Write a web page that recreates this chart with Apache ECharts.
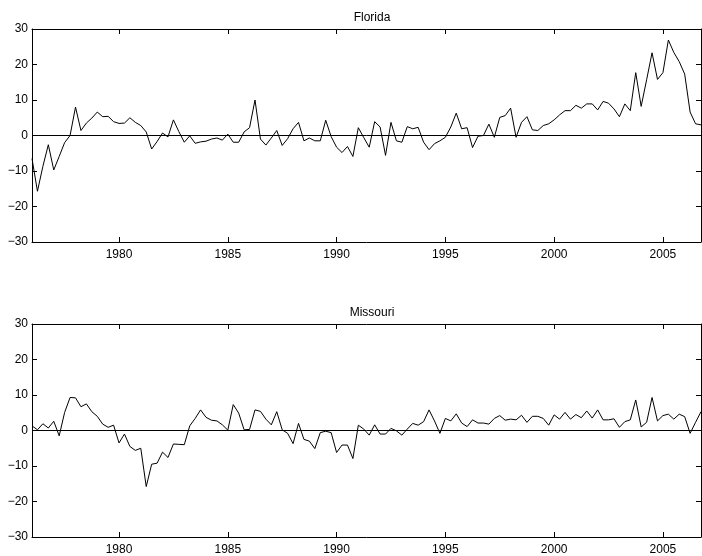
<!DOCTYPE html>
<html>
<head>
<meta charset="utf-8">
<title>Florida / Missouri</title>
<script src="https://cdn.jsdelivr.net/npm/echarts@6/dist/echarts.min.js"></script>
<style>
  html, body { margin: 0; padding: 0; background: #fff; }
  #chart { width: 702px; height: 556px; }
</style>
</head>
<body>
<div id="chart"></div>
<script>
// quarterly series, first point is 1976 Q1
const startYear = 1976;
const xTicks = [1980, 1985, 1990, 1995, 2000, 2005];
const yTicks = [-30, -20, -10, 0, 10, 20, 30];

const florida = [
  -6.5, -15.7, -8.7, -2.6, -9.7, -5.9, -2.0, 0.0, 8.0, 1.4,
  3.5, 4.9, 6.6, 5.3, 5.4, 3.9, 3.4, 3.5, 5.0, 3.7,
  2.8, 1.0, -3.8, -1.7, 0.7, -0.4, 4.4, 1.1, -1.9, -0.1,
  -2.2, -1.8, -1.6, -1.0, -0.7, -1.3, 0.4, -1.9, -1.9, 1.0,
  2.2, 10.0, -1.0, -2.7, -0.7, 1.4, -2.8, -0.9, 1.9, 3.7,
  -1.5, -0.7, -1.5, -1.5, 4.3, -0.3, -3.3, -4.8, -3.1, -5.9,
  2.2, -0.6, -3.3, 3.9, 2.4, -5.6, 3.7, -1.5, -1.9, 2.5,
  1.9, 2.3, -1.9, -4.0, -2.3, -1.5, -0.5, 2.4, 6.3, 1.9,
  2.2, -3.4, -0.2, 0.0, 3.2, -0.5, 5.1, 5.6, 7.7, -0.5,
  3.7, 5.3, 1.6, 1.4, 2.8, 3.3, 4.4, 5.8, 7.0, 7.0,
  8.5, 7.7, 8.9, 8.9, 7.2, 9.6, 9.1, 7.5, 5.3, 8.9,
  7.0, 17.7, 8.2, 15.7, 23.3, 15.8, 17.7, 26.9, 23.4, 20.8,
  17.3, 6.6, 3.3, 3.0
];

const missouri = [
  1.3, 0.2, 1.9, 0.7, 2.6, -1.5, 5.1, 9.3, 9.2, 6.7,
  7.5, 5.3, 4.0, 1.8, 0.9, 1.5, -3.5, -1.0, -4.5, -5.6,
  -5.0, -15.8, -9.5, -9.2, -6.1, -7.6, -3.8, -3.9, -4.0, 1.3,
  3.4, 5.8, 3.7, 2.9, 2.7, 1.6, 0.1, 7.3, 4.9, 0.2,
  0.3, 5.8, 5.4, 3.2, 1.6, 5.3, 0.2, -0.8, -3.7, 2.0,
  -2.5, -3.0, -5.1, -0.6, -0.2, -0.6, -6.2, -4.1, -4.1, -7.9,
  1.5, 0.4, -1.3, 1.6, -1.0, -1.0, 0.6, -0.1, -1.3, 0.4,
  2.0, 1.5, 2.5, 5.8, 2.7, -0.8, 3.4, 2.7, 4.7, 2.1,
  1.1, 3.0, 2.1, 2.1, 1.8, 3.4, 4.2, 2.9, 3.2, 3.0,
  4.3, 2.3, 4.0, 4.0, 3.4, 1.5, 4.4, 3.2, 5.1, 3.2,
  4.5, 3.6, 5.5, 3.5, 5.8, 3.0, 3.0, 3.3, 0.9, 2.5,
  3.0, 8.6, 1.0, 2.3, 9.3, 2.7, 4.2, 4.6, 3.2, 4.6,
  3.9, -0.8, 2.3, 5.3
];

const quarters = florida.map((_, i) => startYear + i / 4);

const chart = echarts.init(document.getElementById("chart"));

const font = "Liberation Sans, Arial, sans-serif";
const minus = (v) => String(v).replace("-", "\u2212");

const panels = [
  { name: "Florida", top: 29, values: florida },
  { name: "Missouri", top: 324, values: missouri },
];

const grids = [];
const xAxes = [];
const yAxes = [];
const titles = [];
const series = [];

panels.forEach((p, k) => {
  grids.push({ left: 32, top: p.top, width: 669, height: 213 });
  titles.push({
    text: p.name,
    left: 367,
    top: p.top - 22,
    textAlign: "center",
    textStyle: { fontFamily: font, fontSize: 12, fontWeight: "normal", color: "#000" },
  });

  const xBase = {
    type: "value",
    gridIndex: k,
    min: startYear,
    max: 2006.75,
    splitLine: { show: false },
    axisLine: { onZero: false, lineStyle: { color: "#000", width: 1 } },
    axisTick: {
      inside: true,
      length: 5,
      customValues: xTicks,
      lineStyle: { color: "#000" },
    },
  };
  xAxes.push(Object.assign({}, xBase, {
    position: "bottom",
    axisLabel: {
      customValues: xTicks,
      margin: 7,
      fontFamily: font,
      fontSize: 12,
      color: "#000",
      formatter: (v) => String(v),
    },
  }));
  xAxes.push(Object.assign({}, xBase, {
    position: "top",
    axisLabel: { show: false },
  }));

  const yBase = {
    type: "value",
    gridIndex: k,
    min: -30,
    max: 30,
    interval: 10,
    splitLine: { show: false },
    axisLine: { show: true, onZero: false, lineStyle: { color: "#000", width: 1 } },
    axisTick: { show: true, inside: true, length: 5, lineStyle: { color: "#000" } },
  };
  yAxes.push(Object.assign({}, yBase, {
    position: "left",
    axisLabel: {
      margin: 4,
      fontFamily: font,
      fontSize: 12,
      color: "#000",
      formatter: minus,
    },
  }));
  yAxes.push(Object.assign({}, yBase, {
    position: "right",
    axisLabel: { show: false },
  }));

  series.push({
    name: p.name,
    type: "line",
    xAxisIndex: k * 2,
    yAxisIndex: k * 2,
    data: p.values.map((v, i) => [quarters[i], v]),
    showSymbol: false,
    symbol: "none",
    lineStyle: { color: "#000", width: 1 },
    markLine: {
      silent: true,
      symbol: "none",
      label: { show: false },
      lineStyle: { color: "#000", width: 1, type: "solid" },
      data: [{ yAxis: 0 }],
    },
  });
});

chart.setOption({
  animation: false,
  backgroundColor: "#fff",
  title: titles,
  grid: grids,
  xAxis: xAxes,
  yAxis: yAxes,
  series: series,
});
</script>
</body>
</html>
